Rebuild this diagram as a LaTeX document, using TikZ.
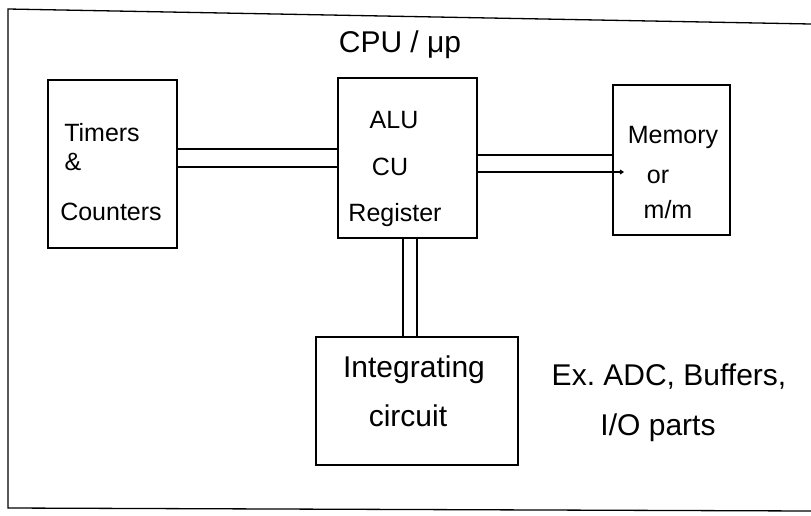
\documentclass[tikz,border=0pt]{standalone}
\usepackage{fontspec}
\setmainfont{Liberation Sans}
\usetikzlibrary{arrows.meta}
\begin{document}
\begin{tikzpicture}[x=1pt,y=-1pt,
  box/.style={draw, line width=1.3pt, inner sep=0pt},
  lbl/.style={font=\fontsize{25}{29}\selectfont, inner sep=0pt},
  biglbl/.style={font=\fontsize{30}{34}\selectfont, inner sep=0pt},
  wire/.style={line width=1.1pt},
  frame/.style={line width=1.3pt}]
\useasboundingbox (0,0) rectangle (811,515);
% outer frame (right side runs off the page)
\coordinate (f1) at (811,24);
\coordinate (f2) at (8,9);
\coordinate (f3) at (8,508);
\coordinate (f4) at (811,511);
\draw[frame] (f1) -- (f2) -- (f3) -- (f4);
\node[biglbl] (cpu) at (400,45) {CPU / μp};
% boxes
\node[box, minimum width=129pt, minimum height=168pt] (T) at (112.5,164) {};
\node[box, minimum width=139pt, minimum height=160pt] (A) at (407.5,158) {};
\node[box, minimum width=117pt, minimum height=150pt] (M) at (671.5,160) {};
\node[box, minimum width=202pt, minimum height=128pt] (I) at (417,401) {};
% texts
\node[lbl] (t1) at (102,133) {Timers};
\node[lbl] (t2) at (73,162) {\&};
\node[lbl] (t3) at (111,212) {Counters};
\node[lbl] (a1) at (394,120) {ALU};
\node[lbl] (a2) at (390,167) {CU};
\node[lbl] (a3) at (395,215) {Register};
\node[lbl] (m1) at (673,137) {Memory};
\node[lbl] (m2) at (658,177) {or};
\node[lbl] (m3) at (668,210) {m/m};
\node[biglbl] (i1) at (414,370) {Integrating};
\node[biglbl] (i2) at (408,416) {circuit};
\node[biglbl] (e1) at (669,377) {Ex.\ ADC, Buffers,};
\node[biglbl] (e2) at (658,428) {I/O parts};
% connectors
\draw[wire] (T.east |- 0,149) -- (A.west |- 0,149);
\draw[wire] (T.east |- 0,167) -- (A.west |- 0,167);
\draw[wire] (A.east |- 0,155) -- (M.west |- 0,155);
\coordinate (mtip) at (624,172);
\draw[wire,-{Straight Barb[length=3pt,width=4pt]}] (A.east |- 0,172) -- (mtip);
\draw[wire] (A.south -| 403,0) -- (I.north -| 403,0);
\draw[wire] (A.south -| 417,0) -- (I.north -| 417,0);
\end{tikzpicture}
\end{document}
